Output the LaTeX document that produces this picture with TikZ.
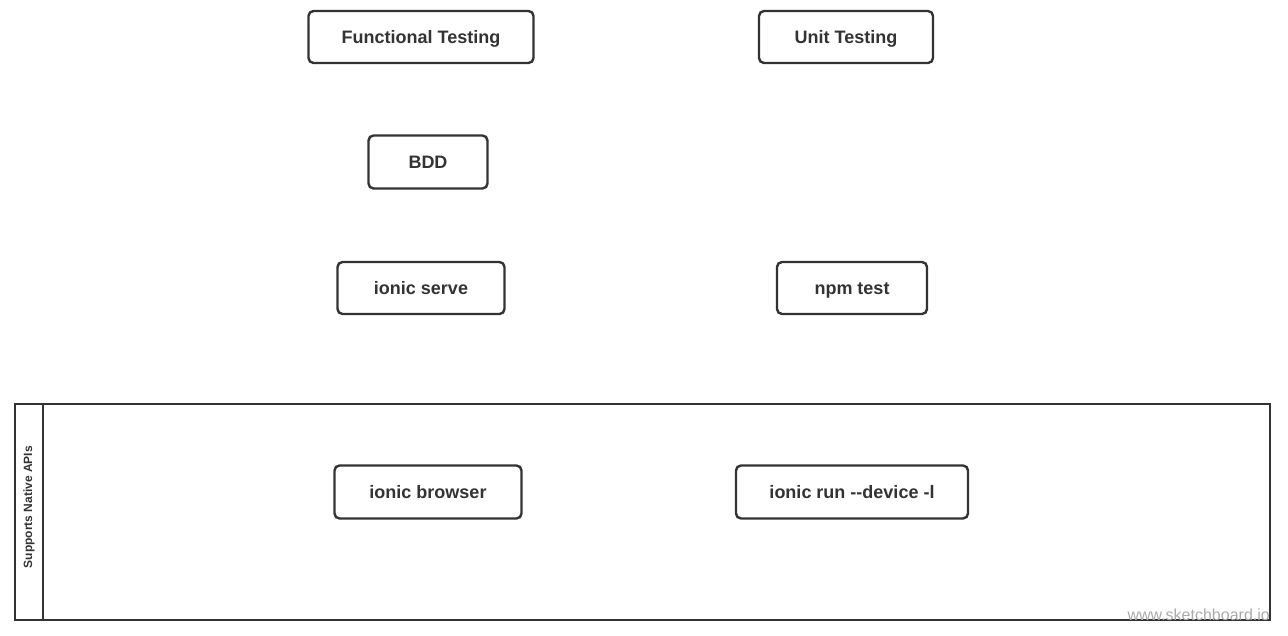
\documentclass[tikz,border=0pt]{standalone}
\usepackage{fontspec}
\setmainfont{Liberation Sans}
\definecolor{ink}{HTML}{333333}
\definecolor{wm}{HTML}{AAAAAA}
\begin{document}
\begin{tikzpicture}[x=1pt,y=-1pt,
  box/.style={draw=ink, line width=2.4pt, rounded corners=5pt, fill=white,
    text=ink, font=\fontsize{18}{20}\selectfont\bfseries, inner sep=0pt, anchor=center,
    text height=13pt, text depth=0pt},
  lane/.style={draw=ink, line width=2.4pt}]
\useasboundingbox (0,0) rectangle (1288,635);
% swimlane
\node[lane, minimum width=1255pt, minimum height=216pt, inner sep=0pt] (pool) at (642.5,512) {};
\node[lane, minimum width=28pt, minimum height=216pt, inner sep=0pt, anchor=west] (hdr) at (pool.west) {};
\node[rotate=90, text=ink, font=\fontsize{12}{13}\selectfont\bfseries, inner sep=0pt] (lbl) at ([yshift=5pt]hdr.center) {Supports Native APIs};
% boxes
\node[box, minimum width=225pt, minimum height=52pt] (ft) at (421,37) {Functional Testing};
\node[box, minimum width=174pt, minimum height=52pt] (ut) at (846,37) {Unit Testing};
\node[box, minimum width=119pt, minimum height=53pt] (bdd) at (428,162) {BDD};
\node[box, minimum width=167pt, minimum height=52pt] (serve) at (421,288) {ionic serve};
\node[box, minimum width=150pt, minimum height=52pt] (npm) at (852,288) {npm test};
\node[box, minimum width=187pt, minimum height=53pt] (browser) at (428,492) {ionic browser};
\node[box, minimum width=232pt, minimum height=53pt] (run) at (852,492) {ionic run -{}-device -l};
% watermark
\node[text=wm, font=\fontsize{16}{18}\selectfont, anchor=south east, inner sep=0pt] (wmk) at (1270,621) {www.sketchboard.io};
\end{tikzpicture}
\end{document}
